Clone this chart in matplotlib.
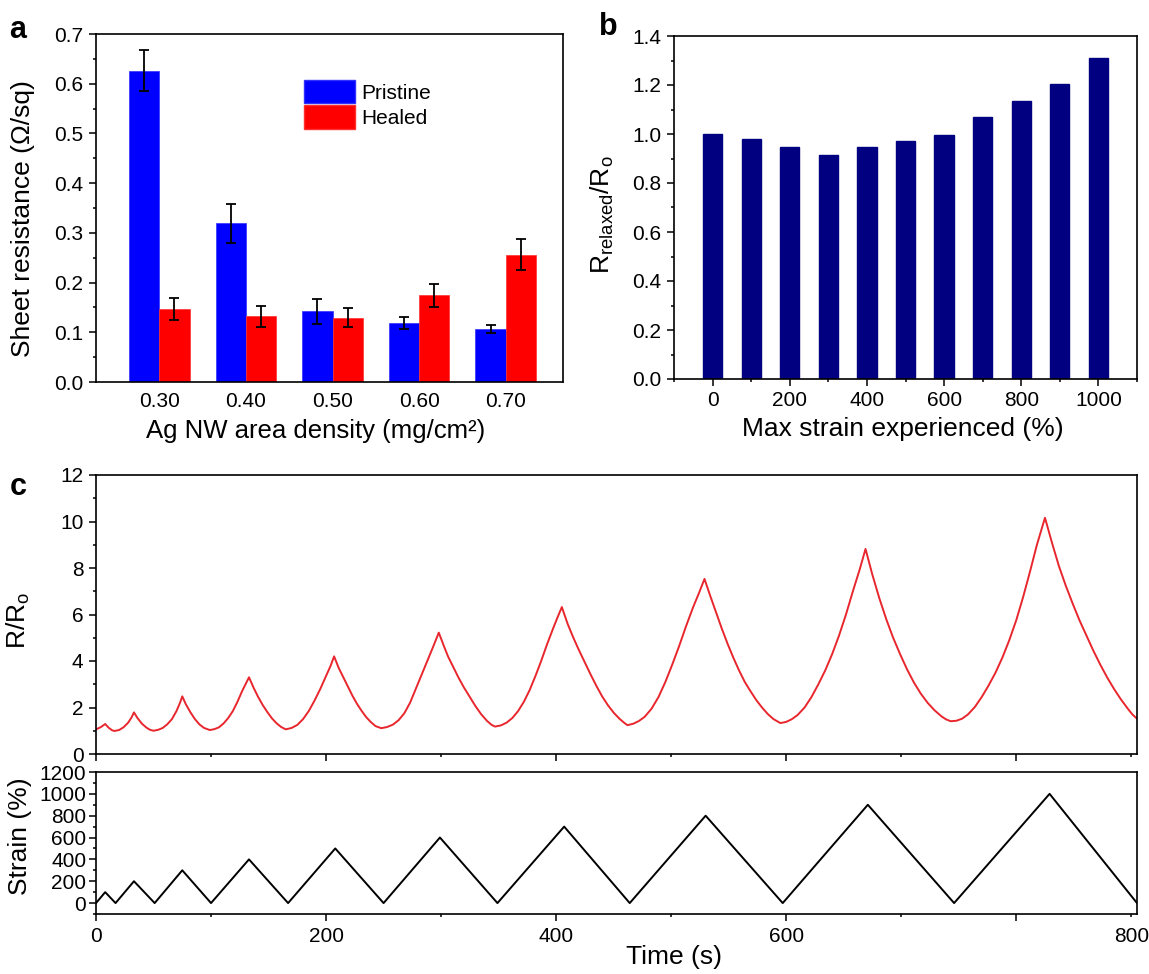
import numpy as np
import matplotlib
matplotlib.use('Agg')
import matplotlib.pyplot as plt
from matplotlib.ticker import MultipleLocator, FixedLocator, FixedFormatter, NullFormatter, FormatStrFormatter
from matplotlib.patches import Patch

plt.rcParams['font.family'] = ['Liberation Sans', 'DejaVu Sans']
plt.rcParams['mathtext.fontset'] = 'custom'
plt.rcParams['mathtext.rm'] = 'Liberation Sans'
plt.rcParams['axes.linewidth'] = 1.2

# ---- panel a: sheet resistance vs Ag NW density ----
densities = ['0.30', '0.40', '0.50', '0.60', '0.70']
pristine = [0.626, 0.319, 0.142, 0.119, 0.107]
pristine_err = [0.041, 0.039, 0.025, 0.012, 0.008]
healed = [0.147, 0.132, 0.129, 0.174, 0.256]
healed_err = [0.022, 0.021, 0.019, 0.023, 0.031]

# ---- panel b: relaxed resistance after each max strain ----
max_strain = [0, 100, 200, 300, 400, 500, 600, 700, 800, 900, 1000]
r_relaxed = [1.000, 0.981, 0.945, 0.914, 0.947, 0.970, 0.997, 1.068, 1.135, 1.206, 1.309]

# ---- panel c: cyclic strain and R/R0 vs time ----
strain_t = [0, 8, 17, 33, 51, 75, 100, 133, 167, 208, 250, 299, 349, 407, 464,
            530, 597, 671, 746, 829, 905]
strain_val = [0, 100, 0, 200, 0, 300, 0, 400, 0, 500, 0, 600, 0, 700, 0,
              800, 0, 900, 0, 1000, 0]

# R/R0 points, cycle by cycle
res_t = [0, 4, 8, 11, 14,
         16, 20, 24, 28, 31, 33, 36, 40, 44, 47,
         50, 54, 58, 62, 66, 70, 73, 75, 78, 82, 86, 90, 94,
         99, 103, 107, 111, 115, 119, 123, 127, 130, 133, 137, 141, 145, 149, 153, 157, 161,
         165, 170, 175, 180, 185, 190, 195, 200, 204, 207, 211, 215, 219, 223, 227, 231, 235, 239, 243,
         248, 253, 258, 263, 268, 273, 278, 283, 288, 293, 298, 302, 306, 310, 315, 320, 325, 330, 335, 340, 344,
         347, 352, 357, 362, 367, 372, 377, 382, 387, 392, 397, 401, 405, 410, 415, 420, 425, 430, 435, 440, 445, 450, 455, 459,
         462, 467, 472, 477, 483, 489, 495, 501, 507, 513, 519, 524, 529, 534, 539, 544, 549, 554, 559, 564, 569, 574, 579, 584, 589,
         595, 600, 605, 610, 616, 622, 628, 634, 640, 646, 652, 658, 664, 669, 675, 681, 687, 693, 699, 705, 711, 717, 723, 729, 735, 739,
         743, 748, 753, 758, 764, 770, 776, 782, 788, 794, 800, 806, 812, 818, 825, 831, 837, 843, 849, 855, 861, 867, 873, 879, 885, 891, 897, 901, 905]
res_val = [1.06, 1.15, 1.29, 1.13, 1.02,
           0.99, 1.03, 1.15, 1.35, 1.58, 1.79, 1.55, 1.30, 1.13, 1.04,
           1.00, 1.04, 1.12, 1.28, 1.50, 1.85, 2.20, 2.48, 2.15, 1.80, 1.50, 1.27, 1.12,
           1.03, 1.07, 1.15, 1.32, 1.55, 1.85, 2.25, 2.70, 3.00, 3.30, 2.85, 2.45, 2.10, 1.80, 1.53, 1.32, 1.16,
           1.06, 1.12, 1.25, 1.50, 1.85, 2.30, 2.80, 3.35, 3.80, 4.20, 3.70, 3.30, 2.90, 2.50, 2.15, 1.85, 1.58, 1.37, 1.20,
           1.11, 1.16, 1.26, 1.45, 1.75, 2.20, 2.80, 3.40, 4.00, 4.60, 5.22, 4.70, 4.20, 3.80, 3.30, 2.85, 2.45, 2.05, 1.70, 1.42, 1.25,
           1.18, 1.23, 1.35, 1.55, 1.85, 2.25, 2.75, 3.35, 4.00, 4.70, 5.35, 5.85, 6.32, 5.60, 5.00, 4.45, 3.93, 3.42, 2.93, 2.48, 2.10, 1.78, 1.52, 1.35,
           1.24, 1.30, 1.42, 1.60, 1.95, 2.45, 3.10, 3.85, 4.65, 5.50, 6.30, 6.90, 7.53, 6.80, 6.10, 5.40, 4.75, 4.15, 3.60, 3.10, 2.70, 2.32, 2.00, 1.72, 1.50,
           1.33, 1.38, 1.50, 1.68, 2.00, 2.45, 3.00, 3.60, 4.30, 5.10, 6.00, 7.00, 7.95, 8.82, 7.70, 6.70, 5.80, 5.00, 4.30, 3.65, 3.08, 2.60, 2.20, 1.88, 1.62, 1.49,
           1.41, 1.43, 1.52, 1.70, 2.02, 2.45, 2.95, 3.50, 4.15, 4.90, 5.75, 6.75, 7.85, 9.00, 10.16, 9.10, 8.10, 7.25, 6.48, 5.75, 5.10, 4.45, 3.85, 3.30, 2.80, 2.35, 1.95, 1.70, 1.52]

W, H = 1149, 974
fig = plt.figure(figsize=(W / 100, H / 100), dpi=100)

TICK_FS = 15
LABEL_FS = 19


def ax_rect(l, t, r, b):
    return [l / W, 1 - b / H, (r - l) / W, (b - t) / H]


def style(ax):
    ax.tick_params(which='both', direction='out', labelsize=TICK_FS, width=1.1, pad=4)
    ax.tick_params(which='major', length=5)
    ax.tick_params(which='minor', length=2.5)
    ax.tick_params(top=False, right=False)


# panel a
ax_a = fig.add_axes(ax_rect(96, 34, 563, 382))
xa = np.arange(len(densities))
bw = 0.35
ax_a.bar(xa - bw / 2, pristine, bw, color='#0000ff', edgecolor='#3030ff', linewidth=0.5)
ax_a.bar(xa + bw / 2, healed, bw, color='#ff0000', edgecolor='#ff3030', linewidth=0.5)
ax_a.errorbar(xa - bw / 2, pristine, yerr=pristine_err, fmt='none', ecolor='black',
              elinewidth=1.3, capsize=3.5, capthick=1.3)
ax_a.errorbar(xa + bw / 2, healed, yerr=healed_err, fmt='none', ecolor='black',
              elinewidth=1.3, capsize=3.5, capthick=1.3)
ax_a.set_xlim(-0.73, 4.66)
ax_a.set_ylim(0, 0.7)
ax_a.set_xticks(xa)
ax_a.set_xticklabels(densities)
ax_a.yaxis.set_major_locator(MultipleLocator(0.1))
ax_a.yaxis.set_minor_locator(MultipleLocator(0.05))
ax_a.yaxis.set_major_formatter(FormatStrFormatter('%.1f'))
style(ax_a)
ax_a.tick_params(axis='x', length=0, pad=7)
ax_a.set_ylabel('Sheet resistance (Ω/sq)', fontsize=LABEL_FS)
ax_a.set_xlabel('Ag NW area density (mg/cm²)', fontsize=LABEL_FS - 0.5)
ax_a.yaxis.set_label_coords(-0.131, 0.47)
ax_a.xaxis.set_label_coords(0.47, -0.105)
handles = [Patch(facecolor='#0000ff', edgecolor='#3030ff', label='Pristine'),
           Patch(facecolor='#ff0000', edgecolor='#ff3030', label='Healed')]
ax_a.legend(handles=handles, loc='upper left', bbox_to_anchor=(0.445, 0.868),
            frameon=False, fontsize=15, handlelength=2.45, handleheight=1.35,
            labelspacing=0.1, handletextpad=0.3, borderpad=0, borderaxespad=0)
fig.text(18 / W, 1 - 30 / H, 'a', fontsize=22, fontweight='bold', ha='center', va='center')

# panel b
ax_b = fig.add_axes(ax_rect(674, 36, 1137, 379))
ax_b.bar(max_strain, r_relaxed, 50, color='#000080', edgecolor='#000080')
ax_b.set_xlim(-100, 1100)
ax_b.set_ylim(0, 1.4)
ax_b.xaxis.set_major_locator(MultipleLocator(200))
ax_b.xaxis.set_minor_locator(MultipleLocator(100))
ax_b.yaxis.set_major_locator(MultipleLocator(0.2))
ax_b.yaxis.set_minor_locator(MultipleLocator(0.1))
ax_b.yaxis.set_major_formatter(FormatStrFormatter('%.1f'))
style(ax_b)
ax_b.set_ylabel(r'R$_{\mathrm{relaxed}}$/R$_{\mathrm{o}}$', fontsize=LABEL_FS)
ax_b.set_xlabel('Max strain experienced (%)', fontsize=LABEL_FS)
ax_b.yaxis.set_label_coords(-0.125, 0.48)
ax_b.xaxis.set_label_coords(0.495, -0.11)
fig.text(608 / W, 1 - 27 / H, 'b', fontsize=22, fontweight='bold', ha='center', va='center')

# panel c (top): R/R0
ax_c = fig.add_axes(ax_rect(96, 475, 1137, 754))
ax_c.plot(res_t, res_val, color='#e8262d', lw=1.4)
ax_c.set_xlim(0, 905)
ax_c.set_ylim(0, 12)
ax_c.xaxis.set_major_locator(MultipleLocator(200))
ax_c.xaxis.set_minor_locator(MultipleLocator(100))
ax_c.xaxis.set_major_formatter(NullFormatter())
ax_c.yaxis.set_major_locator(MultipleLocator(2))
ax_c.yaxis.set_minor_locator(MultipleLocator(1))
style(ax_c)
ax_c.set_ylabel(r'R/R$_{\mathrm{o}}$', fontsize=LABEL_FS)
ax_c.yaxis.set_label_coords(-0.061, 0.48)
fig.text(18 / W, 1 - 487 / H, 'c', fontsize=22, fontweight='bold', ha='center', va='center')

# panel c (bottom): strain
ax_s = fig.add_axes(ax_rect(96, 772, 1137, 914))
ax_s.plot(strain_t, strain_val, color='black', lw=1.4)
ax_s.set_xlim(0, 905)
ax_s.set_ylim(-100, 1200)
ax_s.xaxis.set_major_locator(FixedLocator([0, 200, 400, 600, 800]))
ax_s.xaxis.set_major_formatter(FixedFormatter(['0', '200', '400', '600', '']))
ax_s.xaxis.set_minor_locator(FixedLocator([100, 300, 500, 700, 900]))
ax_s.xaxis.set_minor_formatter(FixedFormatter(['', '', '', '', '800']))
ax_s.yaxis.set_major_locator(MultipleLocator(200))
ax_s.yaxis.set_minor_locator(MultipleLocator(100))
style(ax_s)
ax_s.tick_params(axis='x', which='minor', labelsize=TICK_FS, pad=6.5)
ax_s.tick_params(axis='y', pad=2)
ax_s.set_ylabel('Strain (%)', fontsize=LABEL_FS)
ax_s.set_xlabel('Time (s)', fontsize=LABEL_FS)
ax_s.yaxis.set_label_coords(-0.061, 0.55)
ax_s.xaxis.set_label_coords(0.555, -0.22)

fig.savefig('out.png', dpi=100)
